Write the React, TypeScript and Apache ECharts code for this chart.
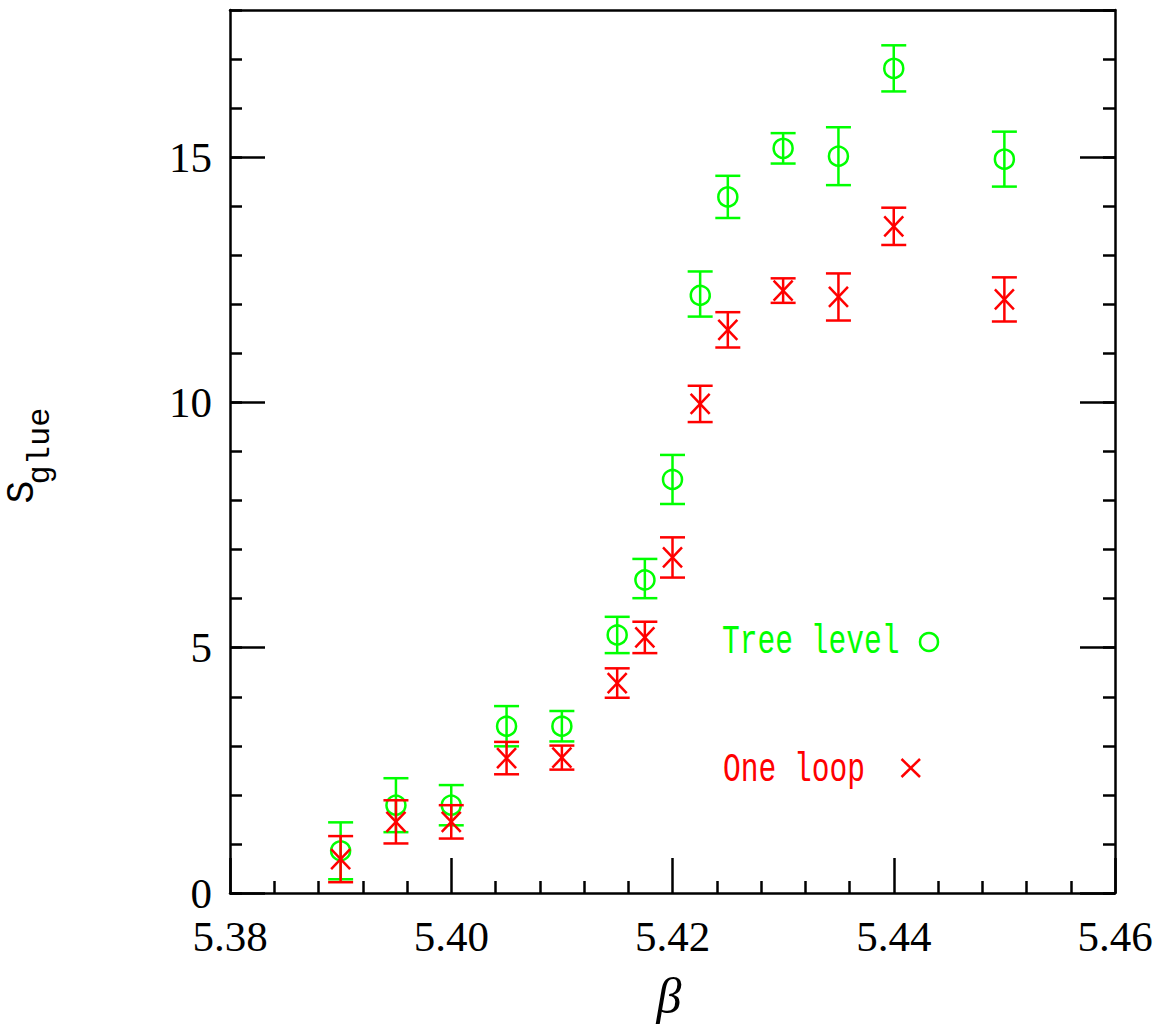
import React, { useEffect, useRef } from "react";
import * as echarts from "echarts";

const betaValues = [5.39, 5.395, 5.4, 5.405, 5.41, 5.415, 5.4175, 5.42, 5.4225, 5.425, 5.43, 5.435, 5.44, 5.45];
const treeLevel = [0.86, 1.79, 1.79, 3.4, 3.4, 5.26, 6.41, 8.43, 12.21, 14.19, 15.18, 15.02, 16.81, 14.96];
const treeLevelErr = [0.58, 0.55, 0.41, 0.41, 0.31, 0.37, 0.4, 0.5, 0.46, 0.43, 0.31, 0.59, 0.47, 0.56];
const oneLoop = [0.69, 1.45, 1.45, 2.75, 2.76, 4.28, 5.21, 6.84, 9.97, 11.48, 12.28, 12.15, 13.59, 12.1];
const oneLoopErr = [0.47, 0.44, 0.34, 0.33, 0.245, 0.3, 0.32, 0.41, 0.37, 0.36, 0.25, 0.48, 0.38, 0.45];

const GREEN = "#00ff00";
const RED = "#ff0000";
const AX = "#000000";
const LW = 2.5;

function makeRender(color: string, marker: "circle" | "cross") {
  return (params: any, api: any) => {
    const x = api.value(0);
    const y = api.value(1);
    const e = api.value(2);
    const c = api.coord([x, y]);
    const top = api.coord([x, y + e]);
    const bot = api.coord([x, y - e]);
    const hw = 12.5;
    const st = { stroke: color, lineWidth: LW, fill: "none" };
    const children: any[] = [
      { type: "line", shape: { x1: c[0], y1: top[1], x2: c[0], y2: bot[1] }, style: st },
      { type: "line", shape: { x1: c[0] - hw, y1: top[1], x2: c[0] + hw, y2: top[1] }, style: st },
      { type: "line", shape: { x1: c[0] - hw, y1: bot[1], x2: c[0] + hw, y2: bot[1] }, style: st },
    ];
    if (marker === "circle") {
      children.push({ type: "circle", shape: { cx: c[0], cy: c[1], r: 9.5 }, style: st });
    } else {
      const h = 9.5;
      const v = 10;
      children.push({ type: "line", shape: { x1: c[0] - h, y1: c[1] - v, x2: c[0] + h, y2: c[1] + v }, style: st });
      children.push({ type: "line", shape: { x1: c[0] - h, y1: c[1] + v, x2: c[0] + h, y2: c[1] - v }, style: st });
    }
    return { type: "group", children };
  };
}

export default function App() {
  const ref = useRef<HTMLDivElement>(null);
  useEffect(() => {
    if (!ref.current) return;
    const chart = echarts.init(ref.current, null, { renderer: "svg" });
    const treeData = betaValues.map((b, i) => [b, treeLevel[i], treeLevelErr[i]]);
    const loopData = betaValues.map((b, i) => [b, oneLoop[i], oneLoopErr[i]]);
    const lineStyle = { color: AX, width: LW };
    const labelFont = { fontFamily: "Liberation Serif", fontSize: 43, color: "#000" };
    const legendFont = { fontFamily: "Liberation Mono", fontWeight: "normal" as const, fontSize: 40 };

    chart.setOption({
      animation: false,
      backgroundColor: "#ffffff",
      grid: { left: 230, top: 10, right: 47, bottom: 131, containLabel: false },
      xAxis: [
        {
          type: "value",
          position: "bottom",
          min: 5.38,
          max: 5.46,
          interval: 0.02,
          axisLine: { show: true, onZero: false, lineStyle },
          axisTick: { show: true, inside: true, length: 35, lineStyle },
          minorTick: { show: true, splitNumber: 5, length: 12, lineStyle },
          axisLabel: { ...labelFont, margin: 22, formatter: (v: number) => v.toFixed(2) },
          splitLine: { show: false },
          minorSplitLine: { show: false },
        },
        {
          type: "value",
          position: "top",
          min: 5.38,
          max: 5.46,
          axisLine: { show: true, onZero: false, lineStyle },
          axisTick: { show: false },
          axisLabel: { show: false },
          splitLine: { show: false },
        },
      ],
      yAxis: [
        {
          type: "value",
          position: "left",
          min: 0,
          max: 18,
          interval: 5,
          axisLine: { show: true, onZero: false, lineStyle },
          axisTick: { show: true, inside: true, length: 35, lineStyle },
          axisLabel: { ...labelFont, margin: 18, showMaxLabel: false },
          splitLine: { show: false },
        },
        {
          type: "value",
          position: "left",
          min: 0,
          max: 18,
          interval: 1,
          axisLine: { show: false, onZero: false },
          axisTick: { show: true, inside: true, length: 12, lineStyle },
          axisLabel: { show: false },
          splitLine: { show: false },
        },
        {
          type: "value",
          position: "right",
          min: 0,
          max: 18,
          interval: 5,
          axisLine: { show: true, onZero: false, lineStyle },
          axisTick: { show: true, inside: true, length: 35, lineStyle },
          axisLabel: { show: false },
          splitLine: { show: false },
        },
        {
          type: "value",
          position: "right",
          min: 0,
          max: 18,
          interval: 1,
          axisLine: { show: false, onZero: false },
          axisTick: { show: true, inside: true, length: 12, lineStyle },
          axisLabel: { show: false },
          splitLine: { show: false },
        },
      ],
      series: [
        {
          name: "Tree level",
          type: "custom",
          xAxisIndex: 0,
          yAxisIndex: 0,
          data: treeData,
          encode: { x: 0, y: 1 },
          renderItem: makeRender(GREEN, "circle"),
          z: 2,
        },
        {
          name: "One loop",
          type: "custom",
          xAxisIndex: 0,
          yAxisIndex: 0,
          data: loopData,
          encode: { x: 0, y: 1 },
          renderItem: makeRender(RED, "cross"),
          z: 3,
        },
      ],
      graphic: [
        {
          type: "text",
          x: 669,
          y: 996,
          style: {
            text: "β",
            fontFamily: "Liberation Serif",
            fontStyle: "italic",
            fontSize: 50,
            fill: "#000",
            align: "center",
            verticalAlign: "middle",
          },
        },
        {
          type: "text",
          x: 22,
          y: 492,
          rotation: Math.PI / 2,
          style: {
            text: "S",
            fontFamily: "Liberation Mono",
            fontSize: 38,
            fill: "#000",
            align: "center",
            verticalAlign: "middle",
          },
        },
        {
          type: "text",
          x: 40,
          y: 446,
          rotation: Math.PI / 2,
          style: {
            text: "glue",
            fontFamily: "Liberation Mono",
            fontSize: 32,
            fill: "#000",
            align: "center",
            verticalAlign: "middle",
          },
        },
        {
          type: "text",
          x: 722,
          y: 643,
          scaleX: 0.74,
          style: { text: "Tree level", ...legendFont, fill: GREEN, align: "left", verticalAlign: "middle" },
        },
        {
          type: "circle",
          shape: { cx: 929, cy: 642, r: 9 },
          style: { stroke: GREEN, lineWidth: LW, fill: "none" },
        },
        {
          type: "text",
          x: 723,
          y: 771,
          scaleX: 0.74,
          style: { text: "One loop", ...legendFont, fill: RED, align: "left", verticalAlign: "middle" },
        },
        {
          type: "line",
          shape: { x1: 901.5, y1: 759, x2: 920, y2: 777 },
          style: { stroke: RED, lineWidth: LW },
        },
        {
          type: "line",
          shape: { x1: 901.5, y1: 777, x2: 920, y2: 759 },
          style: { stroke: RED, lineWidth: LW },
        },
      ],
    });
    return () => chart.dispose();
  }, []);
  return (
    <div
      ref={ref}
      style={{ position: "absolute", left: 0, top: 0, width: 1162, height: 1024, background: "#fff" }}
    />
  );
}
